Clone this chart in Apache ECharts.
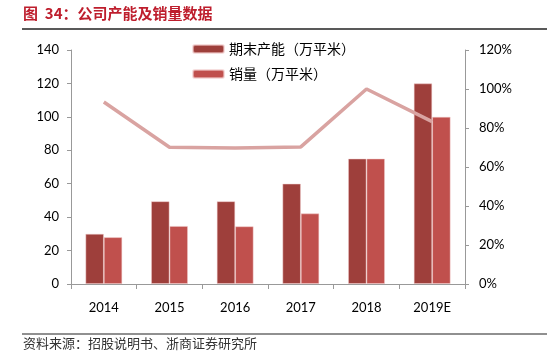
<!DOCTYPE html>
<html>
<head>
<meta charset="utf-8">
<script src="https://cdn.jsdelivr.net/npm/echarts@6/dist/echarts.min.js"></script>
<style>
html,body{margin:0;padding:0;background:#fff;}
#c{width:550px;height:355px;}
</style>
</head>
<body>
<div id="c"></div>
<script>
var categories = ['2014', '2015', '2016', '2017', '2018', '2019E'];
var capacity = [30, 49.5, 49.5, 60, 75, 120];
var sales = [28, 34.7, 34.5, 42.2, 75, 100];
var ratio = [0.933, 0.701, 0.698, 0.703, 1.0, 0.833];
var leftTicks = {min: 0, max: 140, interval: 20};
var rightTicks = {min: 0, max: 1.2, interval: 0.2};
var titleText = '图  34：公司产能及销量数据';
var sourceText = '资料来源：招股说明书、浙商证券研究所';
var seriesNames = ['期末产能（万平米）', '销量（万平米）', '产销率'];

var chart = echarts.init(document.getElementById('c'), null, {renderer: 'canvas'});
var axisFont = {fontFamily: 'Lato, "Open Sans", sans-serif', fontSize: 13, color: '#000'};
chart.setOption({
  animation: false,
  backgroundColor: '#fff',
  grid: {left: 71, right: 85, top: 50, bottom: 71},
  legend: {
    data: [seriesNames[0], seriesNames[1]],
    orient: 'vertical',
    left: 187, top: 37,
    itemWidth: 31, itemHeight: 8, itemGap: 11,
    textStyle: {fontFamily: '"Noto Sans CJK SC", sans-serif', fontSize: 14, color: '#000'}
  },
  graphic: [
    {type: 'text', left: 23, top: 6, style: {text: titleText, fill: '#BE1E2D', font: 'bold 15px "Noto Sans CJK SC", sans-serif'}},
    {type: 'line', shape: {x1: 22, y1: 29, x2: 547, y2: 29}, style: {stroke: '#222', lineWidth: 1.5}},
    {type: 'line', shape: {x1: 22, y1: 334, x2: 547, y2: 334}, style: {stroke: '#222', lineWidth: 1.2}},
    {type: 'text', left: 23, top: 337, style: {text: sourceText, fill: '#333', font: '13px "Noto Sans CJK SC", sans-serif'}}
  ],
  xAxis: {
    type: 'category',
    data: categories,
    axisLine: {lineStyle: {color: '#999'}},
    axisTick: {show: true, length: 5, alignWithLabel: false, lineStyle: {color: '#999'}},
    axisLabel: Object.assign({margin: 17}, axisFont)
  },
  yAxis: [
    {
      type: 'value', min: leftTicks.min, max: leftTicks.max, interval: leftTicks.interval,
      axisLine: {show: true, lineStyle: {color: '#999'}},
      axisTick: {show: true, length: 4, lineStyle: {color: '#999'}},
      splitLine: {show: false},
      axisLabel: Object.assign({margin: 12}, axisFont)
    },
    {
      type: 'value', min: rightTicks.min, max: rightTicks.max, interval: rightTicks.interval,
      axisLine: {show: true, lineStyle: {color: '#999'}},
      axisTick: {show: true, length: 4, lineStyle: {color: '#999'}},
      splitLine: {show: false},
      axisLabel: Object.assign({margin: 14, formatter: function (v) { return Math.round(v * 100) + '%'; }}, axisFont)
    }
  ],
  series: [
    {
      name: seriesNames[0], type: 'bar', data: capacity, yAxisIndex: 0,
      barGap: '0%', barCategoryGap: '44%',
      itemStyle: {color: '#9E3F3B', borderColor: 'rgba(240,200,200,0.6)', borderWidth: 0.8}
    },
    {
      name: seriesNames[1], type: 'bar', data: sales, yAxisIndex: 0,
      itemStyle: {color: '#C0504D', borderColor: 'rgba(240,200,200,0.6)', borderWidth: 0.8}
    },
    {
      name: seriesNames[2], type: 'line', data: ratio, yAxisIndex: 1,
      symbol: 'none', z: 5,
      lineStyle: {color: '#D9A3A1', width: 3.5}
    }
  ]
});
</script>
</body>
</html>
